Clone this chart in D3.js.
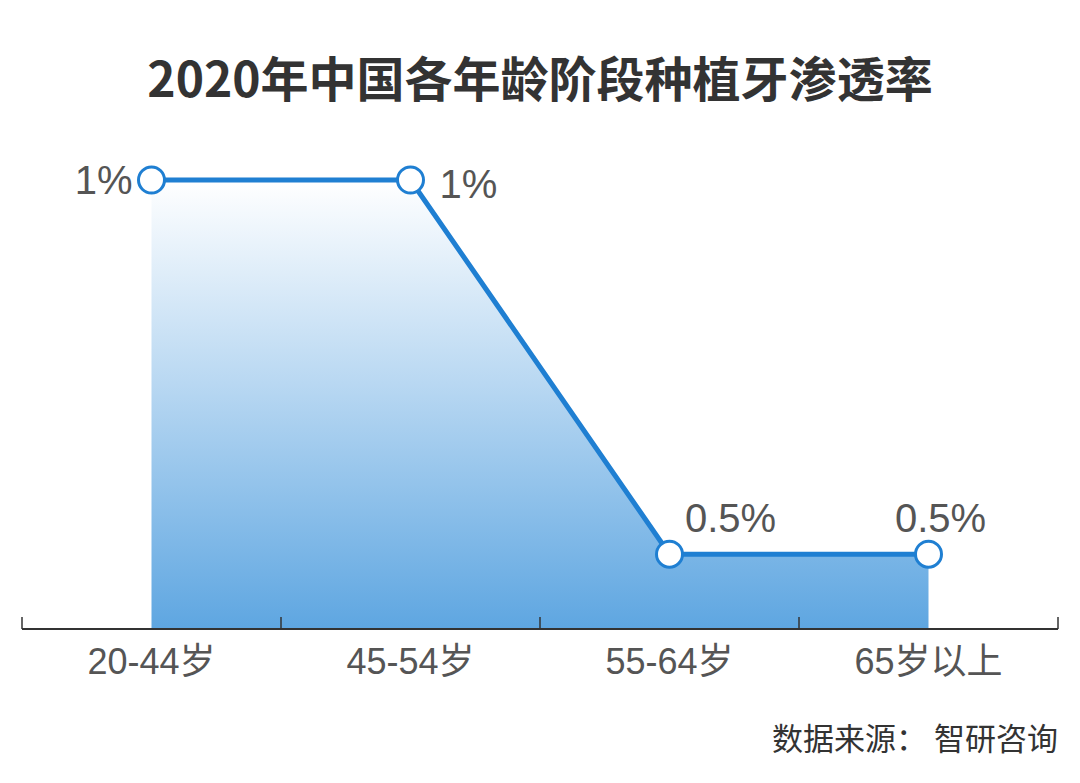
<!DOCTYPE html>
<html><head><meta charset="utf-8">
<script src="https://cdn.jsdelivr.net/npm/d3@7"></script>
<style>body{margin:0;background:#fff}svg{display:block}</style>
</head><body>
<svg id="c" width="1080" height="783"></svg>
<script>
const title = "2020年中国各年龄阶段种植牙渗透率";
const categories = ["20-44岁", "45-54岁", "55-64岁", "65岁以上"];
const values = [1, 1, 0.5, 0.5];
const valueLabels = ["1%", "1%", "0.5%", "0.5%"];
const source = "数据来源：  智研咨询";

const svg = d3.select("#c");
const W = 1080, H = 783;
const left = 22, right = 1058, base = 629;
const x = d3.scaleBand().domain(categories).range([left, right]);
const cx = d => x(d) + x.bandwidth() / 2;
const y = d3.scaleLinear().domain([0.4, 1.0]).range([base, 180]);

const defs = svg.append("defs");
const g = defs.append("linearGradient").attr("id", "ag")
  .attr("gradientUnits", "userSpaceOnUse").attr("x1", 0).attr("y1", y(1)).attr("x2", 0).attr("y2", base);
g.append("stop").attr("offset", "0").attr("stop-color", "#ffffff");
g.append("stop").attr("offset", "0.45").attr("stop-color", "#b9d8f2");
g.append("stop").attr("offset", "1").attr("stop-color", "#5ea6e1");

svg.append("text").attr("x", W / 2).attr("y", 97).attr("text-anchor", "middle")
  .attr("font-family", "'Noto Sans CJK SC', 'Noto Sans', sans-serif").attr("font-weight", 700)
  .attr("font-size", 48).attr("fill", "#333").text(title);

const data = categories.map((c, i) => ({c, v: values[i], l: valueLabels[i]}));

svg.append("path").datum(data)
  .attr("d", d3.area().x(d => cx(d.c)).y0(base).y1(d => y(d.v)))
  .attr("fill", "url(#ag)");

svg.append("path").datum(data)
  .attr("d", d3.line().x(d => cx(d.c)).y(d => y(d.v)))
  .attr("fill", "none").attr("stroke", "#1f7fd2").attr("stroke-width", 5);

// axis
const ax = svg.append("g").attr("transform", `translate(0,${base})`)
  .call(d3.axisBottom(x).tickSize(0).tickPadding(0));
ax.select(".domain").attr("stroke", "#333").attr("stroke-width", 2).attr("d", `M${left},0H${right}`);
ax.selectAll(".tick text").attr("font-family", "'Liberation Sans', 'Noto Sans CJK SC', sans-serif")
  .attr("font-size", 36).attr("fill", "#555").attr("y", 45).attr("dy", null);
const bounds = categories.map(c => x(c)).concat([x(categories[categories.length - 1]) + x.bandwidth()]);
svg.append("g").selectAll("line").data(bounds).join("line")
  .attr("x1", d => d).attr("x2", d => d).attr("y1", base - 12).attr("y2", base)
  .attr("stroke", "#333").attr("stroke-width", 1.5);

svg.append("g").selectAll("circle").data(data).join("circle")
  .attr("cx", d => cx(d.c)).attr("cy", d => y(d.v)).attr("r", 13)
  .attr("fill", "#fff").attr("stroke", "#1f7fd2").attr("stroke-width", 3);

const lab = svg.append("g").attr("font-family", "'Liberation Sans', Arial, sans-serif")
  .attr("font-size", 40).attr("fill", "#555");
data.forEach((d, i) => {
  const px = cx(d.c), py = y(d.v);
  let tx, ty, anchor;
  if (i === 0) { tx = px - 19; ty = py + 14; anchor = "end"; }
  else if (i === 1) { tx = px + 29; ty = py + 18; anchor = "start"; }
  else if (i === 2) { tx = px + 61; ty = py - 22; anchor = "middle"; }
  else { tx = px + 12; ty = py - 22; anchor = "middle"; }
  lab.append("text").attr("x", tx).attr("y", ty).attr("text-anchor", anchor).text(d.l);
});

svg.append("text").attr("x", 1058).attr("y", 750).attr("text-anchor", "end")
  .attr("font-family", "'Noto Sans CJK SC', sans-serif").attr("font-size", 31)
  .attr("fill", "#333").text(source);
</script>
</body></html>
